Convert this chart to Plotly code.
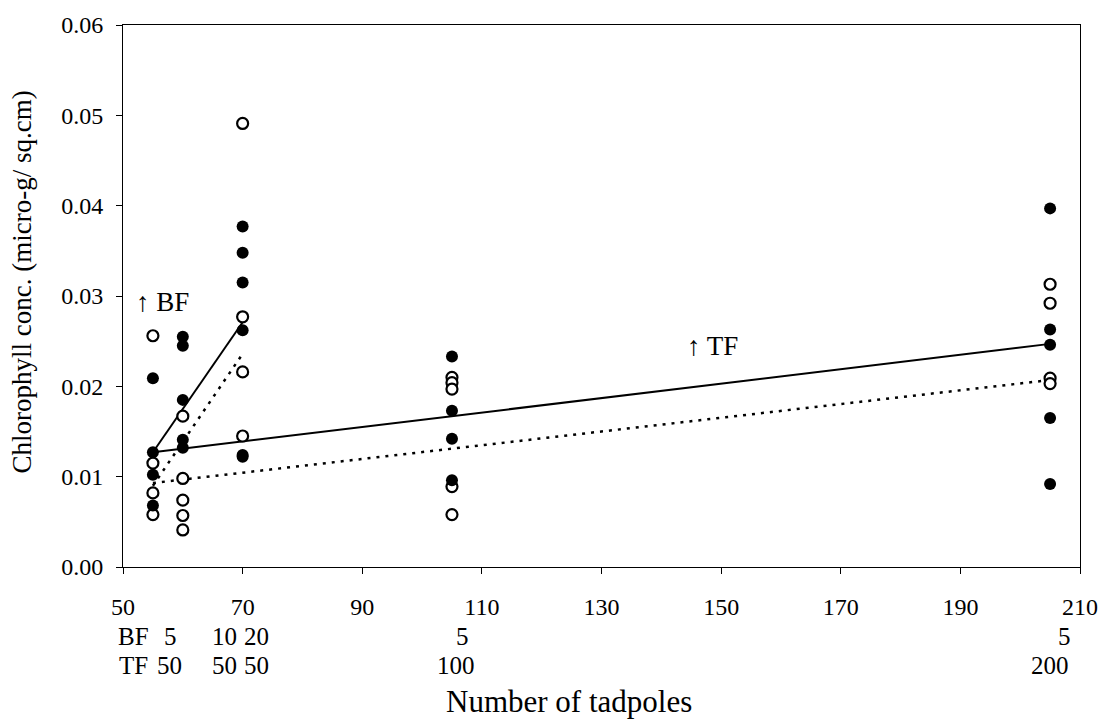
import plotly.graph_objects as go

# Group positions on the x axis (number of tadpoles)
x_groups = [55, 60, 70, 105, 205]

# Chlorophyll concentration per replicate (micro-g / sq.cm)
filled_vals = {
    55: [0.0209, 0.0127, 0.0102, 0.0068],
    60: [0.0255, 0.0245, 0.0185, 0.0141, 0.0132],
    70: [0.0377, 0.0348, 0.0315, 0.0262, 0.0124, 0.0122],
    105: [0.0233, 0.0173, 0.0142, 0.0096],
    205: [0.0397, 0.0263, 0.0246, 0.0165, 0.0092],
}
open_vals = {
    55: [0.0256, 0.0115, 0.0082, 0.0058],
    60: [0.0167, 0.0098, 0.0074, 0.0057, 0.0041],
    70: [0.0491, 0.0277, 0.0216, 0.0145],
    105: [0.0210, 0.0204, 0.0197, 0.0089, 0.0058],
    205: [0.0313, 0.0292, 0.0209, 0.0203],
}

# Trend lines
bf_line_x = [55, 70]
bf_solid = [0.0127, 0.0271]
bf_dotted = [0.0090, 0.0236]
tf_line_x = [55, 205]
tf_solid = [0.0127, 0.0247]
tf_dotted = [0.0093, 0.0207]

# Tadpole composition rows under the axis
bf_counts = ["5", "10", "20", "5", "5"]
tf_counts = ["50", "50", "50", "100", "200"]
bf_label_x = [58.0, 67.0, 72.4, 106.8, 207.4]
tf_label_x = [57.8, 67.0, 72.4, 105.6, 205.0]

x_ticks = [50, 70, 90, 110, 130, 150, 170, 190, 210]
y_ticks = [0.00, 0.01, 0.02, 0.03, 0.04, 0.05, 0.06]

FONT = "Liberation Serif, Times New Roman, serif"
ROW_BF_Y = -0.128
ROW_TF_Y = -0.181

fig = go.Figure()

dot_style = dict(color="black", width=2.5, dash="3px,6px")
solid_style = dict(color="black", width=2)

fig.add_trace(go.Scatter(x=bf_line_x, y=bf_dotted, mode="lines", line=dot_style, showlegend=False))
fig.add_trace(go.Scatter(x=tf_line_x, y=tf_dotted, mode="lines", line=dot_style, showlegend=False))
fig.add_trace(go.Scatter(x=bf_line_x, y=bf_solid, mode="lines", line=solid_style, showlegend=False))
fig.add_trace(go.Scatter(x=tf_line_x, y=tf_solid, mode="lines", line=solid_style, showlegend=False))

ox, oy, fx, fy = [], [], [], []
for g in x_groups:
    for v in open_vals[g]:
        ox.append(g)
        oy.append(v)
    for v in filled_vals[g]:
        fx.append(g)
        fy.append(v)

fig.add_trace(go.Scatter(
    x=ox, y=oy, mode="markers", showlegend=False,
    marker=dict(symbol="circle", size=11, color="white", line=dict(color="black", width=2.2)),
))
fig.add_trace(go.Scatter(
    x=fx, y=fy, mode="markers", showlegend=False,
    marker=dict(symbol="circle", size=12, color="black", line=dict(color="black", width=0)),
))


def txt(x, y, text, size=24, xref="x", yref="paper", angle=0):
    return dict(x=x, y=y, xref=xref, yref=yref, text=text, showarrow=False,
                xanchor="center", yanchor="middle", textangle=angle,
                font=dict(family=FONT, size=size, color="black"))


annotations = [
    txt(56.6, 0.0293, "↑ BF", size=27, yref="y"),
    txt(148.5, 0.0245, "↑ TF", size=27, yref="y"),
    txt(51.7, ROW_BF_Y, "BF", size=25),
    txt(51.7, ROW_TF_Y, "TF", size=25),
    txt(0.466, -0.249, "Number of tadpoles", size=31, xref="paper"),
    txt(-0.1055, 0.525, "Chlorophyll conc. (micro-g/ sq.cm)", size=27,
        xref="paper", angle=-90),
]
for xx, t in zip(bf_label_x, bf_counts):
    annotations.append(txt(xx, ROW_BF_Y, t, size=25))
for xx, t in zip(tf_label_x, tf_counts):
    annotations.append(txt(xx, ROW_TF_Y, t, size=25))

fig.update_layout(
    width=1116, height=728,
    margin=dict(l=123, r=36, t=21, b=161),
    paper_bgcolor="white", plot_bgcolor="white",
    font=dict(family=FONT, size=24, color="black"),
    annotations=annotations,
    xaxis=dict(
        range=[50, 210], tickvals=x_ticks, ticktext=[str(t) for t in x_ticks],
        showgrid=False, zeroline=False, showline=True, linecolor="black", linewidth=1,
        mirror=True, ticks="outside", ticklen=6, tickcolor="black",
        ticklabelstandoff=12, tickfont=dict(family=FONT, size=24),
    ),
    yaxis=dict(
        range=[0, 0.06], tickvals=y_ticks, ticktext=[f"{t:.2f}" for t in y_ticks],
        showgrid=False, zeroline=False, showline=True, linecolor="black", linewidth=1,
        mirror=True, ticks="outside", ticklen=6, tickcolor="black",
        ticklabelstandoff=8, tickfont=dict(family=FONT, size=24),
    ),
)

fig.write_html("out.html")
